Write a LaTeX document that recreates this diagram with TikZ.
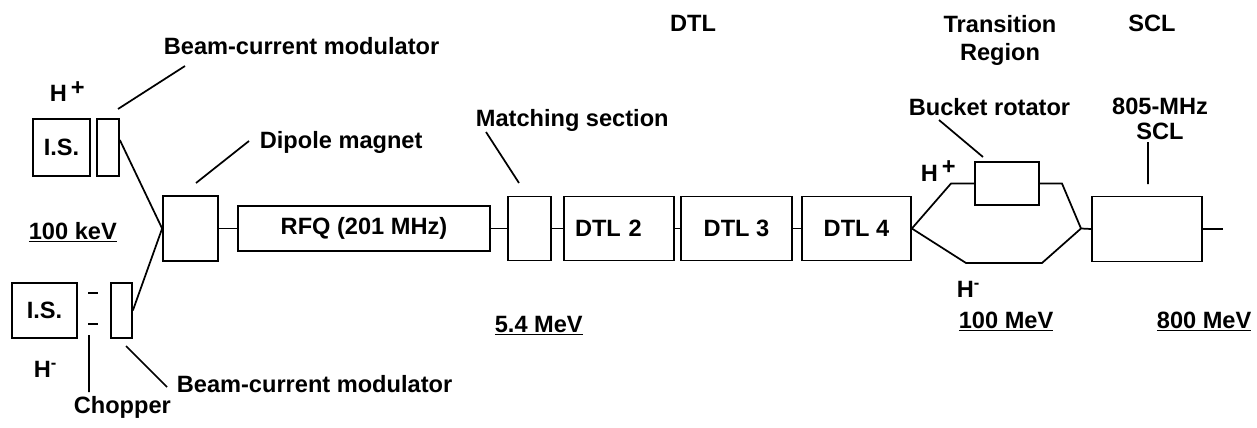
\documentclass[tikz,border=0pt]{standalone}
\usepackage{fontspec}
\setmainfont{Liberation Sans}
\usepackage{tikz}

% underlined energy label
\newcommand{\energy}[1]{\setbox0\hbox{#1}\rlap{\rule[-2.4pt]{\wd0}{1.1pt}}\box0}

\begin{document}
\begin{tikzpicture}[x=0.75pt, y=-0.75pt, line width=1.3pt,
    every node/.style={font=\fontsize{17.7}{21}\selectfont\bfseries, inner sep=0pt},
    box/.style={draw, rectangle},
    lbl/.style={anchor=base west}]
  \useasboundingbox (0,0) rectangle (1257,428);

  % ion sources and modulators
  \node[box, minimum width=42.75pt, minimum height=42.75pt] (is1) at (61.5,147.5) {I.S.};
  \node[box, minimum width=16.5pt, minimum height=42.75pt] (mod1) at (108,147.5) {};
  \node[box, minimum width=48.75pt, minimum height=41.25pt] (is2) at (44.5,310.5) {I.S.};
  \node[box, minimum width=15.75pt, minimum height=41.25pt] (mod2) at (121.5,310.5) {};

  % beam line
  \node[box, minimum width=41.25pt, minimum height=48.75pt] (dipole) at (190.5,228.5) {};
  \node[box, minimum width=189pt, minimum height=33.75pt] (rfq) at (364,228.5) {RFQ (201 MHz)};
  \node[box, minimum width=32.25pt, minimum height=48pt] (match) at (529.5,228.5) {};
  \node[box, minimum width=82.5pt, minimum height=48pt, text width=66pt, align=left] (dtl2) at (619,228.5) {DTL 2};
  \node[box, minimum width=83.25pt, minimum height=48pt] (dtl3) at (736.5,228.5) {DTL 3};
  \node[box, minimum width=81.75pt, minimum height=48pt] (dtl4) at (856.5,228.5) {DTL 4};
  \node[box, minimum width=48pt, minimum height=32.25pt] (bucket) at (1007,183.5) {};
  \node[box, minimum width=82.5pt, minimum height=48.75pt] (scl) at (1147,229) {};

  \coordinate (upbend) at (951,183.5);
  \coordinate (upbend2) at (1062,183.5);
  \coordinate (lowbend) at (966,263);
  \coordinate (lowbend2) at (1042,263);
  \coordinate (merge) at (1081,228.5);
  \coordinate (beamout) at (1223,229);
  \coordinate (chopA) at (88,293);
  \coordinate (chopB) at (88,324);

  \draw ([yshift=5.6pt]mod1.east) -- (dipole.west) -- (mod2.east);
  \draw (dipole.east) -- (rfq.west) (rfq.east) -- (match.west)
        (match.east) -- (dtl2.west) (dtl2.east) -- (dtl3.west)
        (dtl3.east) -- (dtl4.west);
  \draw (dtl4.east) -- (upbend) -- (bucket.west) (bucket.east) -- (upbend2) -- (merge);
  \draw (dtl4.east) -- (lowbend) -- (lowbend2) -- (merge) -- (scl.west);
  \draw (scl.east) -- (beamout);
  \draw (chopA) -- ++(10,0) (chopB) -- ++(10,0);

  % leaders
  \coordinate (modAtip) at (118,109);   \coordinate (modAend) at (185,66);
  \coordinate (dipTip) at (196,183);    \coordinate (dipEnd) at (249,141);
  \coordinate (matchTip) at (519,183);  \coordinate (matchEnd) at (486,132);
  \coordinate (bucketTip) at (983,157); \coordinate (bucketEnd) at (939,120);
  \coordinate (sclTip) at (1148,184);   \coordinate (sclEnd) at (1148,142);
  \coordinate (chopTip) at (89,335);    \coordinate (chopEnd) at (89,392);
  \coordinate (modBtip) at (126,346);   \coordinate (modBend) at (167,387);
  \draw (modAtip) -- (modAend) (dipTip) -- (dipEnd) (matchTip) -- (matchEnd)
        (bucketTip) -- (bucketEnd) (sclTip) -- (sclEnd) (chopTip) -- (chopEnd)
        (modBtip) -- (modBend);

  % labels
  \node[lbl] (modlblA) at (163,55) {Beam-current modulator};
  \node[lbl] (diplbl) at (259,148) {Dipole magnet};
  \node[lbl] (matchlbl) at (475,127) {Matching section};
  \node[lbl] (modlblB) at (176,392) {Beam-current modulator};
  \node[lbl] (choplbl) at (73,413) {Chopper};
  \node[lbl] (hplusA) at (49,102) {H\,\raisebox{5pt}{+}};
  \node[lbl] (hminusA) at (33,377) {H\textsuperscript{-}};
  \node[lbl] (hplusB) at (920,181) {H\,\raisebox{5pt}{+}};
  \node[lbl] (hminusB) at (956,297) {H\textsuperscript{-}};
  \node[lbl] (bucketlbl) at (908,115) {Bucket rotator};
  \node[lbl] (kev) at (28,239) {\energy{100 keV}};
  \node[lbl] (mevA) at (494,332) {\energy{5.4 MeV}};
  \node[lbl] (mevB) at (958,328) {\energy{100 MeV}};
  \node[lbl] (mevC) at (1156,328) {\energy{800 MeV}};
  \node[anchor=base] (dtlhead) at (693,32) {DTL};
  \node[anchor=base] (sclhead) at (1152,32) {SCL};
  \node[anchor=north, align=center] (trhead) at (1000,15) {Transition\\Region};
  \node[anchor=north, align=center] (scllbl) at (1160,97) {805-MHz\\[-2.25pt]SCL};
\end{tikzpicture}
\end{document}
